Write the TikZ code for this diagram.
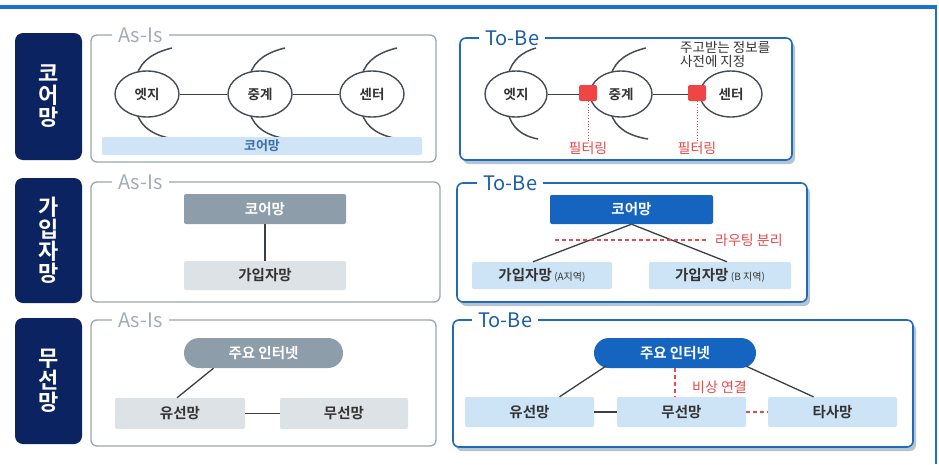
\documentclass[tikz,border=0pt]{standalone}
\usepackage{fontspec}
\setmainfont{Noto Sans CJK KR}[BoldFont={Noto Sans CJK KR Bold}]
\usetikzlibrary{shapes.geometric}
\definecolor{navy}{HTML}{0B2360}
\definecolor{framegray}{HTML}{9AA5AE}
\definecolor{titlegray}{HTML}{A3ACB5}
\definecolor{tobeblue}{HTML}{1F6BB8}
\definecolor{titleblue}{HTML}{1A5FA8}
\definecolor{shadowcol}{HTML}{B6C3D3}
\definecolor{darkgraybox}{HTML}{8E9DAA}
\definecolor{lightgraybox}{HTML}{DDE2E6}
\definecolor{darkbluebox}{HTML}{1565C0}
\definecolor{lightbluebox}{HTML}{CDE3F6}
\definecolor{barblue}{HTML}{CFE4F7}
\definecolor{bartext}{HTML}{3D6EA8}
\definecolor{redc}{HTML}{E84A4A}
\definecolor{squarered}{HTML}{F04545}
\definecolor{linec}{HTML}{3A3F45}
\definecolor{ellc}{HTML}{454C54}
\definecolor{txtc}{HTML}{333333}
\definecolor{topblue}{HTML}{1A73C8}
\tikzset{
  sidelabel/.style={fill=navy, rounded corners=8pt, text=white, font=\bfseries\fontsize{22}{22}\selectfont, align=center, inner sep=0pt},
  asisframe/.style={draw=framegray, line width=1.3pt, rounded corners=6pt, fill=white},
  tobeframe/.style={draw=tobeblue, line width=1.6pt, rounded corners=6pt, fill=white},
  shadowframe/.style={fill=shadowcol, rounded corners=6pt},
  titleA/.style={fill=white, text=titlegray, font=\fontsize{20}{21}\selectfont, inner xsep=6pt, inner ysep=0pt, anchor=west},
  titleB/.style={fill=white, text=titleblue, font=\fontsize{20}{21}\selectfont, inner xsep=6pt, inner ysep=0pt, anchor=west},
  ell/.style={ellipse, draw=ellc, line width=1.4pt, fill=white, minimum width=64pt, minimum height=46pt, inner sep=0pt, text=txtc, font=\bfseries\fontsize{13.5}{15}\selectfont},
  covarc/.style={draw=ellc, line width=1.5pt},
  conn/.style={draw=linec, line width=1.3pt},
  reddash/.style={draw=redc, line width=1.3pt, dash pattern=on 4pt off 3pt},
  reddot/.style={draw=redc, line width=0.8pt, dotted},
  redtxt/.style={text=redc, font=\fontsize{14}{16}\selectfont, inner sep=1pt},
  filt/.style={fill=squarered, rounded corners=2pt, minimum width=18pt, minimum height=16pt, inner sep=0pt},
  box/.style={rounded corners=2pt, inner sep=0pt, font=\bfseries\fontsize{14.5}{16}\selectfont},
  dgray/.style={box, fill=darkgraybox, text=white},
  lgray/.style={box, fill=lightgraybox, text=txtc},
  dblue/.style={box, fill=darkbluebox, text=white},
  lblue/.style={box, fill=lightbluebox, text=txtc},
  corebar/.style={fill=barblue, rounded corners=2pt, text=bartext, font=\bfseries\fontsize{13}{14}\selectfont, minimum width=320pt, minimum height=18pt, inner sep=0pt},
}
\newcommand{\coverarcs}[1]{%
  \draw[covarc] (#1-10,75) .. controls (#1-6,60) and (#1+8,52) .. (#1+25,48);
  \draw[covarc] (#1-10,113) .. controls (#1-6,128) and (#1+8,136) .. (#1+27,139);
}
\begin{document}
\begin{tikzpicture}[x=1pt,y=-1pt]
\useasboundingbox (0,0) rectangle (939,464);
\fill[white] (0,0) rectangle (939,464);
% outer frame lines
\draw[topblue, line width=3.5pt] (0,7) -- (937,7);
\draw[topblue, line width=1.8pt] (936,7) -- (936,464);

% side labels
\node[sidelabel, minimum width=67pt, minimum height=127pt] (s1) at (48.5,96.5) {코\\어\\망};
\node[sidelabel, minimum width=67pt, minimum height=125pt] (s2) at (48.5,240.5) {가\\입\\자\\망};
\node[sidelabel, minimum width=67pt, minimum height=126pt] (s3) at (48.5,381) {무\\선\\망};

% ===== Row 1 As-Is =====
\draw[asisframe] (91,35) rectangle (436,162);
\node[titleA] (t1a) at (112,35) {As-Is};
\coverarcs{147}
\coverarcs{260}
\coverarcs{372}
\node[corebar] (cb1) at (262,146) {코어망};
\node[ell] (e1) at (147,94) {엣지};
\node[ell] (r1) at (260,94) {중계};
\node[ell] (c1) at (372,94) {센터};
\draw[conn, line width=1pt] (e1) -- (r1);
\draw[conn, line width=1pt] (r1) -- (c1);

% ===== Row 1 To-Be =====
\fill[shadowframe] (463,42) rectangle (795,164);
\draw[tobeframe] (460,38) rectangle (792,160);
\node[titleB] (t1b) at (479,38) {To-Be};
\draw[covarc] (508,75) .. controls (512,60) and (522,52) .. (536,48);
\draw[covarc] (508,113) .. controls (512,128) and (522,136) .. (538,139);
\coverarcs{621}
\node[ell, minimum width=62pt] (e2) at (516,94) {엣지};
\node[ell, minimum width=62pt] (r2) at (621,94) {중계};
\node[ell, minimum width=62pt] (c2) at (731,94) {센터};
\draw[conn, line width=1pt] (e2) -- (r2);
\draw[conn, line width=1pt] (r2) -- (c2);
\node[filt] (f1) at (588,93) {};
\node[filt] (f2) at (697,93) {};
\node[redtxt] (fl1) at (588,148) {필터링};
\node[redtxt] (fl2) at (697,148) {필터링};
\draw[reddot] (f1.south) -- (fl1.north);
\draw[reddot] (f2.south) -- (fl2.north);
\node[anchor=north west, align=left, text=txtc, font=\fontsize{13.5}{14}\selectfont, inner sep=0pt] (note) at (680,41) {주고받는 정보를\\사전에 지정};

% ===== Row 2 As-Is =====
\draw[asisframe] (91,182) rectangle (440,302);
\node[titleA] (t2a) at (112,182) {As-Is};
\node[dgray, minimum width=162pt, minimum height=30pt] (ac2) at (265,209) {코어망};
\node[lgray, minimum width=162pt, minimum height=29pt] (as2) at (265,275.5) {가입자망};
\draw[conn] (ac2) -- (as2);

% ===== Row 2 To-Be =====
\fill[shadowframe] (460,187) rectangle (810,306);
\draw[tobeframe] (457,183) rectangle (807,302);
\node[titleB] (t2b) at (477,183) {To-Be};
\node[dblue, minimum width=163pt, minimum height=29pt] (bc2) at (631.5,209.5) {코어망};
\node[lblue, minimum width=140pt, minimum height=27pt] (ba2) at (542,275.5) {가입자망\,{\mdseries\fontsize{10}{11}\selectfont(A지역)}};
\node[lblue, minimum width=142pt, minimum height=27pt] (bb2) at (720,275.5) {가입자망\,{\mdseries\fontsize{10}{11}\selectfont(B 지역)}};
\draw[conn] (bc2.south) -- ([xshift=-9pt]ba2.north);
\draw[conn] (bc2.south) -- ([xshift=7pt]bb2.north);
\node[redtxt, anchor=west] (rt) at (714,240) {라우팅 분리};
\coordinate (rd) at (555,240);
\draw[reddash] (rd) -- ([xshift=-6pt]rt.west);

% ===== Row 3 As-Is =====
\draw[asisframe] (91,320) rectangle (436,446);
\node[titleA] (t3a) at (112,320) {As-Is};
\node[dgray, rounded corners=15pt, minimum width=159pt, minimum height=30pt] (pa3) at (263.5,353) {주요 인터넷};
\node[lgray, minimum width=130pt, minimum height=31pt] (ya3) at (180,413.5) {유선망};
\node[lgray, minimum width=128pt, minimum height=31pt] (ma3) at (344,413.5) {무선망};
\draw[conn] ([xshift=-50pt]pa3.south) -- ([xshift=-3pt]ya3.north);
\draw[conn] (ya3.east) -- (ma3.west);

% ===== Row 3 To-Be =====
\fill[shadowframe] (456,324) rectangle (916,451);
\draw[tobeframe] (453,320) rectangle (913,447);
\node[titleB] (t3b) at (472,320) {To-Be};
\node[dblue, rounded corners=15pt, minimum width=162pt, minimum height=30pt] (pb3) at (675,353) {주요 인터넷};
\node[lblue, minimum width=129pt, minimum height=30pt] (yb3) at (529.5,412) {유선망};
\node[lblue, minimum width=129pt, minimum height=30pt] (mb3) at (681.5,412) {무선망};
\node[lblue, minimum width=129pt, minimum height=30pt] (tb3) at (832.5,412) {타사망};
\draw[conn] ([xshift=12pt,yshift=2pt]pb3.south west) -- ([xshift=30pt]yb3.north);
\draw[conn] ([xshift=-10pt,yshift=2pt]pb3.south east) -- ([xshift=-19pt]tb3.north);
\draw[reddash] (pb3.south) -- (pb3.south |- mb3.north);
\node[redtxt, anchor=west] (em) at (691,387) {비상 연결};
\draw[conn] (yb3.east) -- (mb3.west);
\draw[reddash] (mb3.east) -- (tb3.west);
\end{tikzpicture}
\end{document}
